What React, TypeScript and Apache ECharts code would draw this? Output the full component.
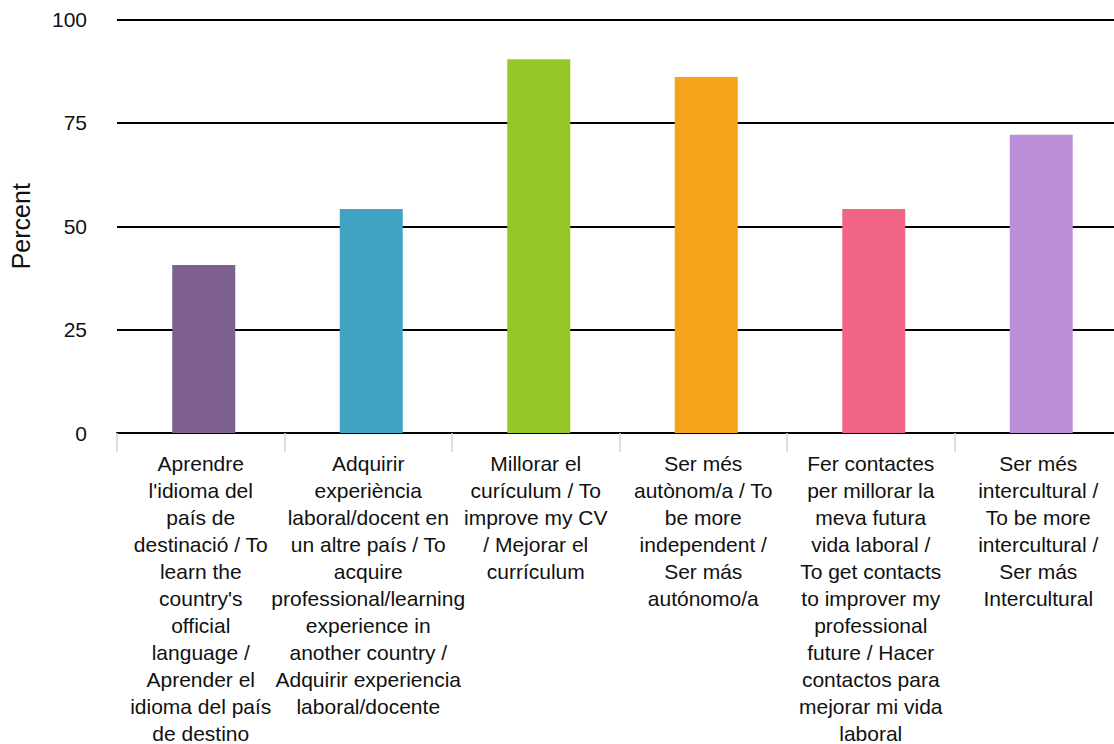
import React, { useEffect, useRef } from "react";
import * as echarts from "echarts";

const categories = [
  "Aprendre\nl'idioma del\npaís de\ndestinació / To\nlearn the\ncountry's\nofficial\nlanguage /\nAprender el\nidioma del país\nde destino",
  "Adquirir\nexperiència\nlaboral/docent en\nun altre país / To\nacquire\nprofessional/learning\nexperience in\nanother country /\nAdquirir experiencia\nlaboral/docente",
  "Millorar el\ncurículum / To\nimprove my CV\n/ Mejorar el\ncurrículum",
  "Ser més\nautònom/a / To\nbe more\nindependent /\nSer más\nautónomo/a",
  "Fer contactes\nper millorar la\nmeva futura\nvida laboral /\nTo get contacts\nto improver my\nprofessional\nfuture / Hacer\ncontactos para\nmejorar mi vida\nlaboral",
  "Ser més\nintercultural /\nTo be more\nintercultural /\nSer más\nIntercultural",
];
const values = [40.6, 54.2, 90.4, 86.1, 54.2, 72.1];
const barColors = ["#7e6191", "#40a3c1", "#95c826", "#f5a31b", "#f06486", "#be8fd9"];
const yTicks = [0, 25, 50, 75, 100];

export default function App() {
  const ref = useRef<HTMLDivElement>(null);
  useEffect(() => {
    if (!ref.current) return;
    const chart = echarts.init(ref.current, undefined, { renderer: "svg" });
    const font = "'Liberation Sans', Arial, Helvetica, sans-serif";
    chart.setOption({
      animation: false,
      grid: { left: 117, right: -8, top: 19.5, bottom: 311, containLabel: false, outerBoundsMode: "none" },
      xAxis: {
        type: "category",
        data: categories,
        boundaryGap: true,
        axisLine: { show: true, lineStyle: { color: "#000", width: 2 } },
        axisTick: { show: true, length: 19, lineStyle: { color: "#c8d4e8", width: 1.5 } },
        axisLabel: {
          interval: 0,
          margin: 17,
          fontSize: 21,
          lineHeight: 27,
          color: "#111",
          fontFamily: font,
          align: "center",
        },
      },
      yAxis: {
        type: "value",
        min: yTicks[0],
        max: yTicks[yTicks.length - 1],
        interval: 25,
        name: "Percent",
        nameLocation: "middle",
        nameGap: 84,
        nameTextStyle: { fontSize: 25, color: "#111", fontFamily: font },
        axisLine: { show: false },
        axisTick: { show: false },
        axisLabel: { fontSize: 21, color: "#111", fontFamily: font, margin: 30 },
        splitLine: { show: true, lineStyle: { color: "#000", width: 2 } },
      },
      series: [
        {
          type: "bar",
          name: "spacer",
          data: values.map(() => null),
          barWidth: 6,
          barGap: 0,
          silent: true,
        },
        {
          type: "bar",
          name: "Percent",
          data: values.map((v, i) => ({ value: v, itemStyle: { color: barColors[i] } })),
          barWidth: 63,
          barGap: 0,
        },
      ],
    });
    return () => chart.dispose();
  }, []);
  return <div ref={ref} style={{ width: 1114, height: 744, position: "absolute", left: 0, top: 0 }} />;
}
